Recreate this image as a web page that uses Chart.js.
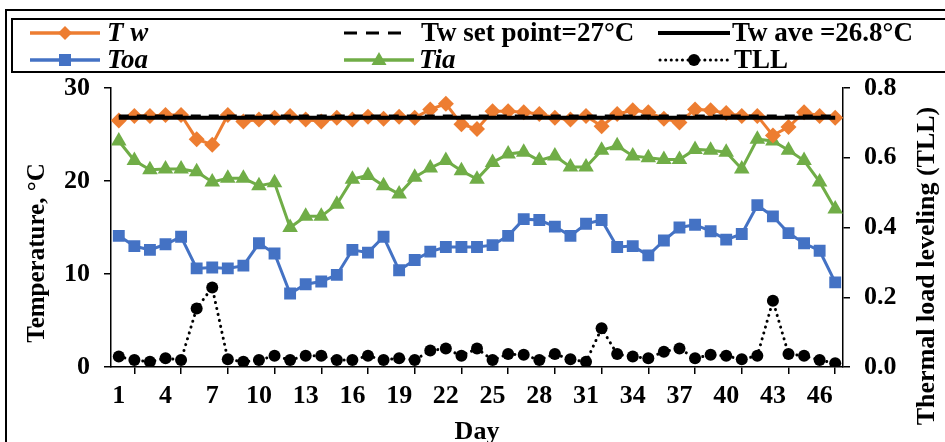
<!DOCTYPE html>
<html>
<head>
<meta charset="utf-8">
<title>Tw, Toa, Tia and TLL by day</title>
<script src="https://cdn.jsdelivr.net/npm/chart.js@4.4.1/dist/chart.umd.min.js"></script>
<style>
  html, body { margin: 0; padding: 0; background: #fff; overflow: hidden; }
  #fig { position: relative; width: 945px; height: 442px; overflow: hidden; }
  #frame { position: absolute; left: 5px; top: 9px; width: 1000px; height: 500px; border: 2px solid #000; box-sizing: border-box; }
  #legendBox { position: absolute; left: 11px; top: 18px; width: 1000px; height: 55px; border: 2px solid #000; box-sizing: border-box; }
  #chart, #labels { position: absolute; left: 0; top: 0; }
  svg text { font-family: "Liberation Serif", "Times New Roman", serif; font-weight: bold; fill: #000; }
</style>
</head>
<body>
<div id="fig">
  <div id="frame"></div>
  <div id="legendBox"></div>
  <canvas id="chart" width="945" height="442"></canvas>
  <svg id="labels" width="945" height="442">
    <!-- legend samples -->
    <line x1="30" y1="33" x2="100" y2="33" stroke="#ED7D31" stroke-width="3.5"/>
    <polygon points="65,26 72,33 65,40 58,33" fill="#ED7D31"/>
    <line x1="30" y1="60" x2="100" y2="60" stroke="#4472C4" stroke-width="3.5"/>
    <rect x="59" y="54" width="12" height="12" fill="#4472C4"/>
    <line x1="344" y1="33" x2="401" y2="33" stroke="#000" stroke-width="3" stroke-dasharray="13 9"/>
    <line x1="344" y1="60" x2="414" y2="60" stroke="#70AD47" stroke-width="3.5"/>
    <polygon points="379,52 386.5,65 371.5,65" fill="#70AD47"/>
    <line x1="658" y1="33" x2="730" y2="33" stroke="#000" stroke-width="4"/>
    <line x1="660" y1="60" x2="730" y2="60" stroke="#000" stroke-width="3" stroke-dasharray="0.1 5.5" stroke-linecap="round"/>
    <circle cx="694" cy="60" r="6" fill="#000"/>
    <text x="107" y="41" font-size="27" font-style="italic">T w</text>
    <text x="107" y="68" font-size="27" font-style="italic">Toa</text>
    <text x="421" y="41" font-size="27">Tw set point=27°C</text>
    <text x="419" y="68" font-size="27" font-style="italic">Tia</text>
    <text x="732" y="41" font-size="27">Tw ave =26.8°C</text>
    <text x="734" y="68" font-size="27">TLL</text>
    <!-- axis titles -->
    <text transform="translate(44,253) rotate(-90)" text-anchor="middle" font-size="25">Temperature, °C</text>
    <text transform="translate(934,266) rotate(-90)" text-anchor="middle" font-size="26">Thermal load leveling (TLL)</text>
    <text x="477" y="439" text-anchor="middle" font-size="26">Day</text>
  </svg>
</div>
<script>
// daily values
const days = [1, 2, 3, 4, 5, 6, 7, 8, 9, 10, 11, 12, 13, 14, 15, 16, 17, 18, 19, 20, 21, 22, 23, 24,
  25, 26, 27, 28, 29, 30, 31, 32, 33, 34, 35, 36, 37, 38, 39, 40, 41, 42, 43, 44, 45, 46, 47];

const tw = [26.5, 27.0, 27.0, 27.1, 27.1, 24.5, 23.9, 27.1, 26.4, 26.6, 26.8, 27.0, 26.6, 26.4, 26.8,
  26.6, 26.9, 26.7, 26.9, 26.8, 27.7, 28.3, 26.1, 25.6, 27.5, 27.5, 27.4, 27.2, 26.8, 26.6, 27.0,
  25.9, 27.2, 27.6, 27.4, 26.7, 26.3, 27.7, 27.6, 27.3, 27.0, 27.0, 24.9, 25.8, 27.4, 27.0, 26.8];

const toa = [14.1, 13.0, 12.6, 13.2, 14.0, 10.6, 10.7, 10.6, 10.9, 13.3, 12.2, 7.9, 8.9, 9.2, 9.9,
  12.6, 12.3, 14.0, 10.4, 11.5, 12.4, 12.9, 12.9, 12.9, 13.1, 14.1, 15.9, 15.8, 15.1, 14.1, 15.4,
  15.8, 12.9, 13.0, 12.0, 13.6, 15.0, 15.3, 14.6, 13.7, 14.3, 17.4, 16.2, 14.4, 13.3, 12.5, 9.1];

const tia = [24.3, 22.2, 21.2, 21.3, 21.3, 21.0, 19.9, 20.3, 20.3, 19.5, 19.8, 15.0, 16.2, 16.2, 17.5,
  20.2, 20.6, 19.5, 18.6, 20.4, 21.4, 22.2, 21.1, 20.2, 22.0, 22.9, 23.1, 22.2, 22.7, 21.5, 21.5,
  23.3, 23.8, 22.7, 22.5, 22.3, 22.3, 23.4, 23.3, 23.1, 21.3, 24.5, 24.3, 23.3, 22.2, 19.9, 17.0];

const tll = [0.030, 0.020, 0.015, 0.025, 0.020, 0.168, 0.228, 0.022, 0.015, 0.020, 0.032, 0.020, 0.032, 0.032, 0.020,
  0.020, 0.032, 0.020, 0.025, 0.020, 0.047, 0.053, 0.032, 0.053, 0.020, 0.037, 0.035, 0.020, 0.037, 0.022, 0.015,
  0.111, 0.037, 0.030, 0.025, 0.044, 0.053, 0.025, 0.035, 0.032, 0.022, 0.032, 0.190, 0.037, 0.032, 0.020, 0.011];

const twSetPoint = 27;
const twAverage = 26.8;

const tempTicks = [0, 10, 20, 30];
const tllTicks = [0, 0.2, 0.4, 0.6, 0.8];

const font = { family: "'Liberation Serif', 'Times New Roman', serif", weight: 'bold', size: 26 };

// horizontal reference line from first to last day
function flatLine(v) {
  return [{ x: days[0], y: v }, { x: days[days.length - 1], y: v }];
}

new Chart(document.getElementById('chart').getContext('2d'), {
  type: 'line',
  data: {
    labels: days,
    datasets: [
      { label: 'Tw ave =26.8°C', data: flatLine(twAverage), borderColor: '#000', borderWidth: 4,
        pointRadius: 0, order: 0 },
      { label: 'Tw set point=27°C', data: flatLine(twSetPoint), borderColor: '#000', borderWidth: 3,
        borderDash: [10, 8], pointRadius: 0, order: 1 },
      { label: 'T w', data: tw, borderColor: '#ED7D31', backgroundColor: '#ED7D31', borderWidth: 3,
        pointStyle: 'rectRot', pointRadius: 8, pointBorderWidth: 0, order: 2 },
      { label: 'Toa', data: toa, borderColor: '#4472C4', backgroundColor: '#4472C4', borderWidth: 3,
        pointStyle: 'rect', pointRadius: 8.4, pointBorderWidth: 0, order: 3 },
      { label: 'Tia', data: tia, borderColor: '#70AD47', backgroundColor: '#70AD47', borderWidth: 3,
        pointStyle: 'triangle', pointRadius: 9, pointBorderWidth: 0, order: 4 },
      { label: 'TLL', data: tll, yAxisID: 'y1', borderColor: '#000', backgroundColor: '#000', borderWidth: 3,
        borderDash: [0.1, 6], borderCapStyle: 'round', pointStyle: 'circle', pointRadius: 6,
        pointBorderWidth: 0, order: 5 }
    ]
  },
  options: {
    responsive: false,
    animation: false,
    devicePixelRatio: 1,
    layout: { padding: { top: 88, left: 0, right: 0, bottom: 0 } },
    plugins: { legend: { display: false }, tooltip: { enabled: false } },
    scales: {
      x: {
        type: 'category',
        offset: true,
        border: { color: '#000', width: 1.5 },
        grid: {
          drawOnChartArea: false, tickLength: 7, lineWidth: 1.5,
          color: c => (c.index % 3 === 1 ? '#000' : 'rgba(0,0,0,0)')
        },
        ticks: {
          autoSkip: false, maxRotation: 0, padding: 7, color: '#000', font,
          callback: (v, i) => (i % 3 === 0 ? days[i] : '')
        },
        afterFit: s => { s.height = 75; }
      },
      y: {
        position: 'left',
        min: tempTicks[0], max: tempTicks[tempTicks.length - 1],
        border: { color: '#000', width: 1.5 },
        grid: { drawOnChartArea: false, tickLength: 7, color: '#000', lineWidth: 1.5 },
        ticks: { padding: 14, color: '#000', font },
        afterBuildTicks: s => { s.ticks = tempTicks.map(v => ({ value: v })); },
        afterFit: s => { s.width = 111; }
      },
      y1: {
        position: 'right',
        min: tllTicks[0], max: tllTicks[tllTicks.length - 1],
        border: { color: '#000', width: 1.5 },
        grid: { drawOnChartArea: false, tickLength: 7, color: '#000', lineWidth: 1.5 },
        ticks: { padding: 14, color: '#000', font, callback: v => v.toFixed(1) },
        afterBuildTicks: s => { s.ticks = tllTicks.map(v => ({ value: v })); },
        afterFit: s => { s.width = 102; }
      }
    }
  }
});
</script>
</body>
</html>
